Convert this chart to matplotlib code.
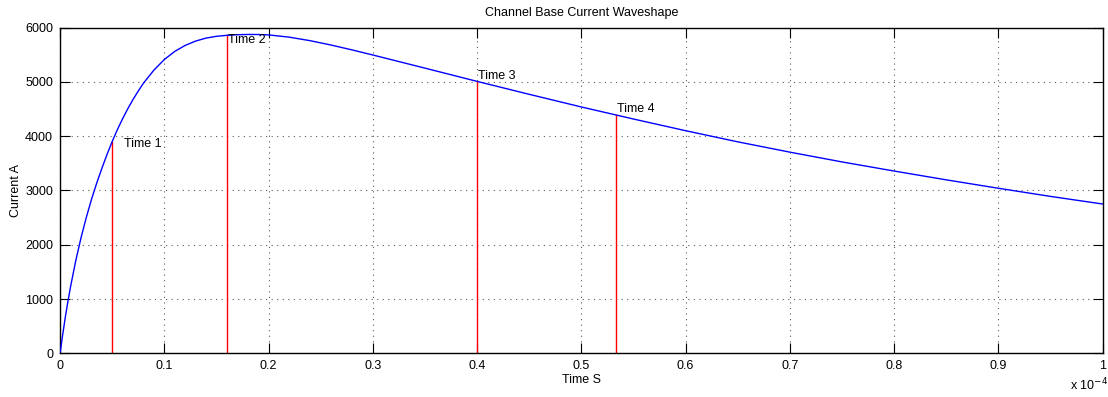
import numpy as np
import matplotlib
matplotlib.use('Agg')
from matplotlib import pyplot as plt
from matplotlib.ticker import FuncFormatter

plt.rcParams['font.family'] = ['Liberation Sans', 'DejaVu Sans']

# channel base current, time in units of 1e-4 s, current in A
t_scaled = [0, 0.0025, 0.005, 0.0075, 0.01, 0.015, 0.02, 0.025, 0.03, 0.035,
            0.04, 0.045, 0.05, 0.055, 0.06, 0.065, 0.07, 0.075, 0.08, 0.09,
            0.10, 0.11, 0.12, 0.13, 0.14, 0.15, 0.16, 0.17, 0.18, 0.19, 0.20,
            0.22, 0.24, 0.26, 0.28, 0.30, 0.35, 0.40, 0.45, 0.50, 0.55, 0.60,
            0.65, 0.70, 0.75, 0.80, 0.85, 0.90, 0.95, 1.00]
current = [0, 340, 660, 950, 1220, 1700, 2120, 2490, 2825, 3125,
           3400, 3660, 3900, 4120, 4320, 4505, 4675, 4830, 4975, 5215,
           5410, 5560, 5670, 5750, 5805, 5838, 5856, 5867, 5872, 5871, 5864,
           5822, 5757, 5677, 5588, 5494, 5252, 5008, 4770, 4537, 4315, 4100,
           3895, 3705, 3525, 3357, 3195, 3040, 2890, 2750]

# marked instants
mark_t = [0.05, 0.16, 0.40, 0.533]
mark_i = [3900, 5856, 5008, 4390]
mark_labels = ['Time 1', 'Time 2', 'Time 3', 'Time 4']
label_t = [0.061, 0.161, 0.401, 0.534]
label_i = [3855, 5770, 5107, 4493]

scale = 1e-4
t = np.array(t_scaled) * scale

fig = plt.figure(figsize=(11.08, 3.97), dpi=100)
ax = fig.add_axes([0.0542, 0.110, 0.9409, 0.8207])

ax.plot(t, current, color='#0000ff', lw=1.0, zorder=3)
for mt, mi in zip(mark_t, mark_i):
    ax.plot([mt * scale, mt * scale], [0, mi], color='#ff0000', lw=1.0, zorder=2)
for lt, li, s in zip(label_t, label_i, mark_labels):
    ax.text(lt * scale, li, s, fontsize=9, ha='left', va='center', zorder=4)

ax.set_xlim(0, 1e-4)
ax.set_ylim(0, 6000)
ax.set_xticks(np.arange(0, 11) * 1e-5)
ax.set_yticks(np.arange(0, 7000, 1000))
ax.xaxis.set_major_formatter(FuncFormatter(lambda v, p: ('%g' % round(v / scale, 3))))
ax.tick_params(direction='in', length=7.5, width=0.8, top=True, right=True,
               labelsize=9, pad=5)
ax.grid(True, linestyle=(0, (1, 4)), color='0.35', lw=0.8)
for sp in ax.spines.values():
    sp.set_linewidth(1.0)

ax.set_title('Channel Base Current Waveshape', fontsize=9, pad=8)
ax.set_xlabel('Time S', fontsize=9, labelpad=1)
ax.set_ylabel('Current A', fontsize=9, labelpad=2)
fig.text(0.966, 0.03, r'x 10$^{-4}$', fontsize=9, ha='left', va='center')

fig.savefig('out.png', dpi=100)
